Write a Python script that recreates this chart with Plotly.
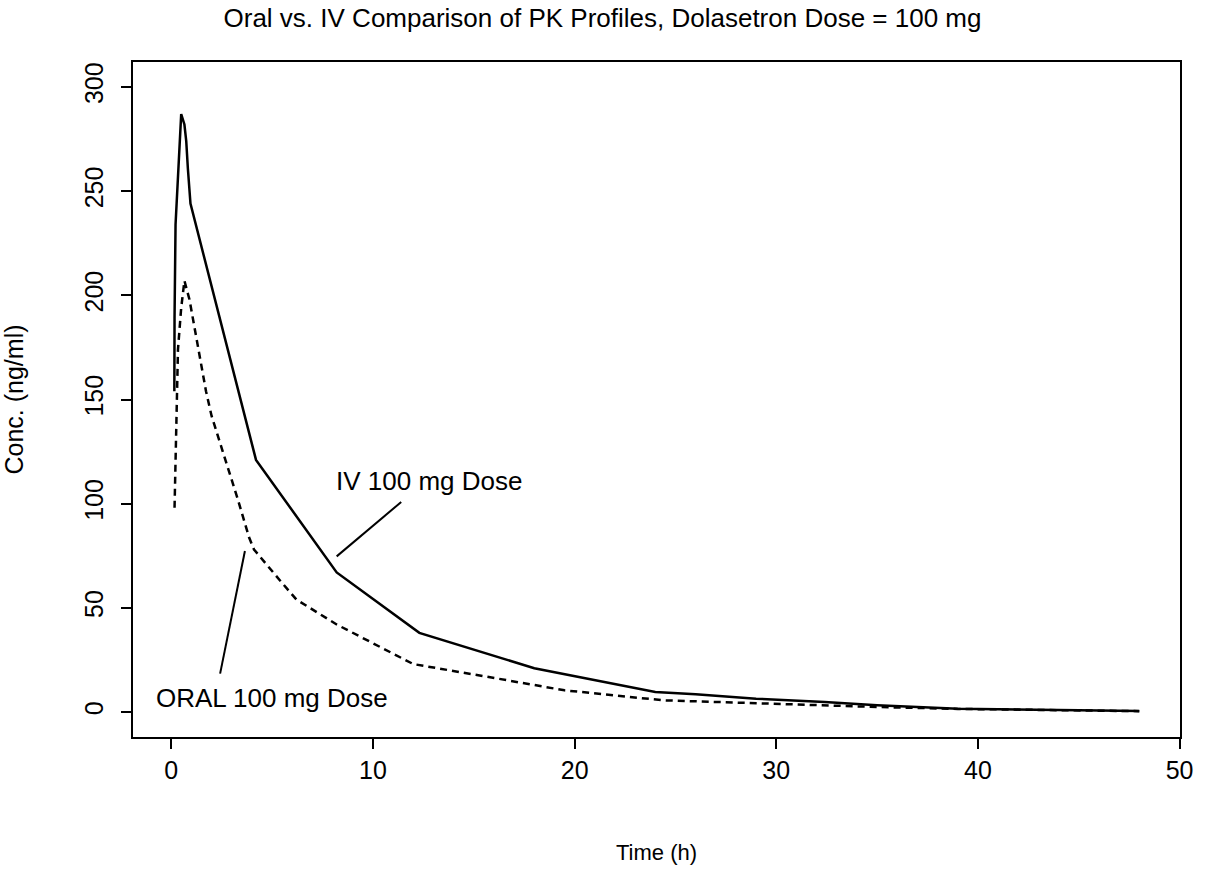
import plotly.graph_objects as go

# IV profile (solid)
iv_time = [0.15, 0.16, 0.21, 0.33, 0.41, 0.49, 0.65, 0.74, 0.82, 0.95,
           4.2, 8.2, 12.3, 18, 24, 26, 29, 32.4, 35, 39, 45, 48]
iv_conc = [154, 189, 234, 256, 276, 287, 282, 274, 261, 244,
           121, 67, 38, 21, 9.6, 8.5, 6.4, 4.8, 3.2, 1.6, 0.8, 0.5]

# Oral profile (dashed)
oral_time = [0.16, 0.21, 0.33, 0.49, 0.65, 0.9, 1.23, 1.5, 1.72, 2.0, 2.5, 3.3,
             3.85, 4.1, 5.4, 6.2, 8.2, 12, 16.2, 19.5, 24.4, 29.3, 32, 35, 39, 45, 48]
oral_conc = [98, 122, 174, 194, 207, 198, 180, 166, 154, 142, 127, 102,
             84, 78, 63, 54, 42, 23, 16, 10.4, 5.6, 4.0, 3.2, 2.4, 1.5, 0.8, 0.4]

x_ticks = [0, 10, 20, 30, 40, 50]
y_ticks = [0, 50, 100, 150, 200, 250, 300]

# label text and leader lines (x0, y0, x1, y1) in data units
labels = ["IV 100 mg Dose", "ORAL 100 mg Dose"]
label_pos = [(12.8, 110.8), (5.0, 6.5)]
leaders = [(11.4, 100.8, 8.2, 74.7), (3.65, 77.3, 2.42, 18.4)]

font = "Liberation Sans, Arial, sans-serif"

fig = go.Figure()
fig.add_trace(go.Scatter(x=iv_time, y=iv_conc, mode="lines", name="IV",
                         line=dict(color="black", width=2.5)))
fig.add_trace(go.Scatter(x=oral_time, y=oral_conc, mode="lines", name="Oral",
                         line=dict(color="black", width=2.5, dash="7px,5px")))

for txt, (lx, ly) in zip(labels, label_pos):
    fig.add_annotation(x=lx, y=ly, text=txt, showarrow=False,
                       font=dict(size=26, color="black", family=font))
for x0, y0, x1, y1 in leaders:
    fig.add_shape(type="line", x0=x0, y0=y0, x1=x1, y1=y1,
                  line=dict(color="black", width=2))

axis_common = dict(showline=True, mirror=True, linecolor="black", linewidth=2,
                   ticks="outside", ticklen=10, tickwidth=2, tickcolor="black",
                   showgrid=False, zeroline=False,
                   tickfont=dict(size=25, color="black", family=font))

fig.update_xaxes(range=[-1.9, 50.02], tickvals=x_ticks,
                 title=dict(text="Time (h)", standoff=62,
                            font=dict(size=22, color="black", family=font)),
                 **axis_common)
fig.update_yaxes(range=[-12, 312], tickvals=y_ticks, tickangle=-90,
                 ticklabelstandoff=8,
                 title=dict(text="Conc. (ng/ml)", standoff=50,
                            font=dict(size=25, color="black", family=font)),
                 **axis_common)

fig.update_layout(
    width=1205, height=876,
    margin=dict(l=133, r=17, t=62, b=139),
    paper_bgcolor="white", plot_bgcolor="white",
    showlegend=False,
    title=dict(text="Oral vs. IV Comparison of PK Profiles, Dolasetron Dose = 100 mg",
               x=0.5, xanchor="center", y=0.979, yanchor="middle",
               font=dict(size=26, color="black", family=font)),
)

# drop the page's default body margin so the figure fills the window exactly
fig.write_html("out.html", config={"displayModeBar": False},
               post_script="document.body.style.margin='0';document.body.style.overflow='hidden';")
